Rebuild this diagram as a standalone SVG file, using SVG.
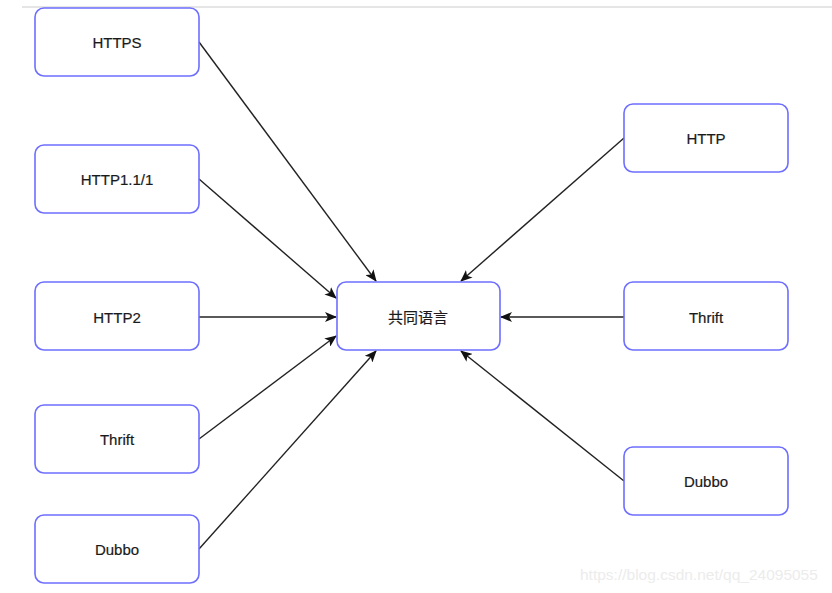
<svg xmlns="http://www.w3.org/2000/svg" width="832" height="593" viewBox="0 0 832 593">
<style>
.box{fill:#fff;stroke:#6e6eff;stroke-width:1.6}
.lbl{font-family:"Liberation Sans",Arial,sans-serif;font-size:15px;fill:#1a1a1a;text-anchor:middle;dominant-baseline:central;stroke:#1a1a1a;stroke-width:0.2}
.cn{font-family:"Liberation Sans","Noto Sans CJK SC",sans-serif}
.edge{stroke:#222;stroke-width:1.4;fill:none;marker-end:url(#ah)}
</style>
<defs>
<marker id="ah" viewBox="0 0 12 10" refX="11" refY="5" markerWidth="12" markerHeight="10" markerUnits="userSpaceOnUse" orient="auto">
<path d="M0,0 L12,5 L0,10 L3,5 Z" fill="#111"/>
</marker>
</defs>
<rect x="0" y="0" width="832" height="593" fill="#fff"/>
<line x1="22" y1="7" x2="832" y2="7" stroke="#dcdcdc" stroke-width="1.5"/>
<g id="connectors">
<line class="edge" x1="199" y1="42" x2="376" y2="281"/>
<line class="edge" x1="199" y1="179" x2="336" y2="298"/>
<line class="edge" x1="199" y1="317" x2="336" y2="317"/>
<line class="edge" x1="199" y1="439" x2="336" y2="336"/>
<line class="edge" x1="199" y1="549" x2="376" y2="351"/>
<line class="edge" x1="624" y1="138" x2="461" y2="281"/>
<line class="edge" x1="624" y1="317" x2="501" y2="317"/>
<line class="edge" x1="624" y1="481" x2="461" y2="351"/>
</g>
<g id="n-https"><rect class="box" x="35" y="8" width="164" height="68" rx="9"/><text class="lbl" x="117" y="42">HTTPS</text></g>
<g id="n-http11"><rect class="box" x="35" y="145" width="164" height="68" rx="9"/><text class="lbl" x="117" y="179">HTTP1.1/1</text></g>
<g id="n-http2"><rect class="box" x="35" y="282" width="164" height="68" rx="9"/><text class="lbl" x="117" y="317">HTTP2</text></g>
<g id="n-thrift-l"><rect class="box" x="35" y="405" width="164" height="68" rx="9"/><text class="lbl" x="117" y="439">Thrift</text></g>
<g id="n-dubbo-l"><rect class="box" x="35" y="515" width="164" height="68" rx="9"/><text class="lbl" x="117" y="549">Dubbo</text></g>
<g id="n-center"><rect class="box" x="337" y="282" width="163" height="68" rx="9"/><text class="lbl cn" x="418" y="317">共同语言</text></g>
<g id="n-http"><rect class="box" x="624" y="104" width="164" height="68" rx="9"/><text class="lbl" x="706" y="138">HTTP</text></g>
<g id="n-thrift-r"><rect class="box" x="624" y="282" width="164" height="68" rx="9"/><text class="lbl" x="706" y="317">Thrift</text></g>
<g id="n-dubbo-r"><rect class="box" x="624" y="447" width="164" height="68" rx="9"/><text class="lbl" x="706" y="481">Dubbo</text></g>
<text x="580" y="580" font-family="'Liberation Sans',Arial,sans-serif" font-size="15.5" fill="#ececec">https://blog.csdn.net/qq_24095055</text>
</svg>
